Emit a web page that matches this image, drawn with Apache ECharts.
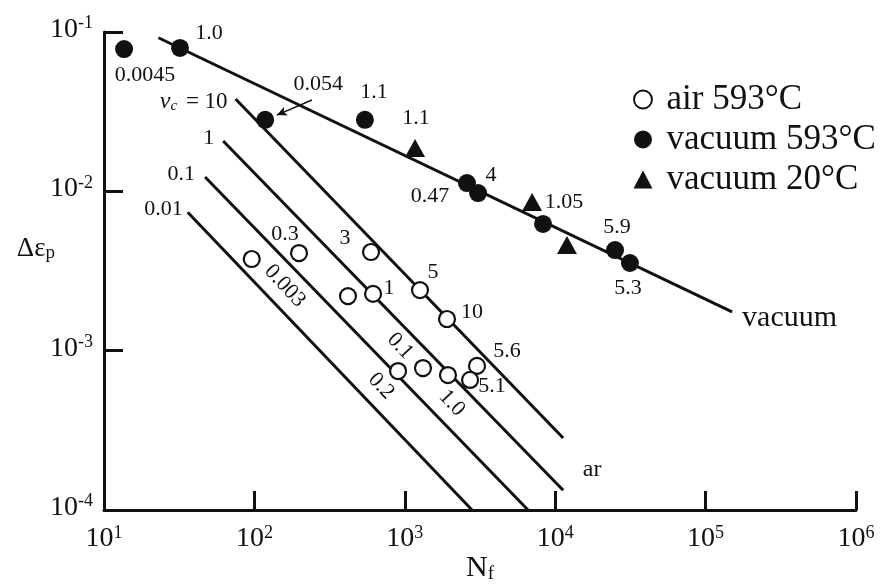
<!DOCTYPE html>
<html>
<head>
<meta charset="utf-8">
<script src="https://cdn.jsdelivr.net/npm/echarts@6/dist/echarts.min.js"></script>
<style>
  html, body { margin: 0; padding: 0; background: #fff; }
  #chart { width: 884px; height: 587px; }
</style>
</head>
<body>
<div id="chart"></div>
<script>
// Fatigue life: plastic strain range vs. cycles to failure (log-log)

// Fitted lines, endpoints as [Nf, strain range]
const vacuumFit = [[23, 0.092], [1.5e5, 1.75e-3]];
const nuLine10 = [[75, 0.038], [11300, 2.83e-4]];
const nuLine1 = [[62, 0.0207], [11300, 1.33e-4]];
const nuLine01 = [[47, 0.0123], [6600, 1e-4]];
const nuLine001 = [[36, 0.0074], [2800, 1e-4]];
const nuLineTags = ['{i|ν}{sub|c}{n| = 10}', '1', '0.1', '0.01'];

// Air, 593°C
const airN = [96, 198, 596, 419, 615, 1262, 1908, 902, 1321, 1936, 3020, 2716];
const airStrain = [3.76e-3, 4.10e-3, 4.16e-3, 2.20e-3, 2.27e-3, 2.40e-3, 1.58e-3, 7.45e-4, 7.78e-4, 7.03e-4, 8.02e-4, 6.55e-4];
const airTags = ['0.003', '0.3', '3', '', '1', '5', '10', '0.2', '0.1', '1.0', '5.6', '5.1'];

// Vacuum, 593°C
const vac593N = [13.6, 32, 118, 543, 2590, 3070, 8300, 25000, 31400];
const vac593Strain = [0.0782, 0.0794, 0.0281, 0.0281, 0.01127, 0.00976, 0.00624, 0.00428, 0.00355];
const vac593Tags = ['0.0045', '1.0', '0.054', '1.1', '0.47', '4', '', '5.9', '5.3'];

// Vacuum, 20°C
const vac20N = [1170, 7020, 11980];
const vac20Strain = [0.0187, 0.00857, 0.0046];
const vac20Tags = ['1.1', '1.05', ''];

// Free text and the pointer to the 0.054 point
const arTagAt = [17600, 1.91e-4];
const pointerFrom = [241, 0.0374];
const pointerTo = [141, 0.0301];

const seriesNames = ['air 593°C', 'vacuum 593°C', 'vacuum 20°C'];

// ---- label placement (screen pixel offsets from the marker centre) ----
const airTagLayout = [
  { offset: [33, 27], rotate: -47 }, { offset: [-14, -19] }, { offset: [-26, -14] }, null,
  { offset: [16, -6] }, { offset: [13, -18] }, { offset: [25, -7] },
  { offset: [-17, 15], rotate: -47 }, { offset: [-23, -22], rotate: -47 },
  { offset: [4, 28], rotate: -47 }, { offset: [30, -15] }, { offset: [22, 6] }
];
const vac593TagLayout = [
  { offset: [21, 26] }, { offset: [29, -15] }, { offset: [53, -36] }, { offset: [9, -28] },
  { offset: [-37, 13] }, { offset: [13, -18] }, null, { offset: [2, -23] }, { offset: [-2, 25] }
];
const vac20TagLayout = [{ offset: [1, -30] }, { offset: [32, 0] }, null];
const nuTagLayout = [
  { distance: 8, dy: 3 }, { distance: 9, dy: -3 }, { distance: 10, dy: -3 }, { distance: 5, dy: -3 }
];

const SERIF = '"Liberation Serif", "Times New Roman", serif';
const INK = '#111';

const tagText = { fontFamily: SERIF, fontSize: 22, color: INK };

// A rotated label also turns its offset; undo that so offsets stay in screen space.
function screenOffset(off, rotateDeg) {
  if (!rotateDeg) return off;
  const t = -rotateDeg * Math.PI / 180;
  const c = Math.cos(t), s = Math.sin(t);
  return [off[0] * c + off[1] * s, -off[0] * s + off[1] * c];
}

function pointData(xs, ys, tags, layout) {
  return xs.map((x, i) => {
    const item = { value: [x, ys[i]] };
    const lay = layout[i];
    if (tags[i] && lay) {
      item.label = Object.assign({
        show: true, position: 'inside', formatter: tags[i],
        offset: screenOffset(lay.offset, lay.rotate), rotate: lay.rotate || 0
      }, tagText);
    }
    return item;
  });
}

const supRich = {
  b: { fontFamily: SERIF, fontSize: 28, color: INK, lineHeight: 30 },
  s: { fontFamily: SERIF, fontSize: 18, color: INK, lineHeight: 18, verticalAlign: 'top' }
};
const decadeLabel = v => '{b|10}{s|' + Math.round(Math.log10(v)) + '}';

const axisCommon = {
  type: 'log', logBase: 10,
  axisLine: { lineStyle: { color: INK, width: 3 } },
  axisTick: { inside: true, length: 19, lineStyle: { color: INK, width: 3 } },
  splitLine: { show: false },
  minorTick: { show: false },
  axisLabel: { formatter: decadeLabel, rich: supRich },
  nameMoveOverlap: false
};

const lineStyle = { color: INK, width: 3 };
const fitLines = [nuLine10, nuLine1, nuLine01, nuLine001, vacuumFit].map(pts => ({
  type: 'line', data: pts, symbol: 'none', lineStyle, z: 2, silent: true
}));

const chart = echarts.init(document.getElementById('chart'));
chart.setOption({
  animation: false,
  backgroundColor: '#fff',
  grid: { left: 104, top: 32, width: 752, height: 478, containLabel: false, outerBoundsMode: 'none' },
  xAxis: Object.assign({}, axisCommon, {
    min: 10, max: 1e6,
    axisLabel: Object.assign({}, axisCommon.axisLabel, { margin: 14 }),
    name: '{n|N}{f|f}', nameLocation: 'middle', nameGap: 42,
    nameTextStyle: {
      rich: {
        n: { fontFamily: SERIF, fontSize: 30, color: INK, lineHeight: 32 },
        f: { fontFamily: SERIF, fontSize: 19, color: INK, lineHeight: 20, verticalAlign: 'bottom' }
      }
    }
  }),
  yAxis: Object.assign({}, axisCommon, {
    min: 1e-4, max: 0.1,
    axisLabel: Object.assign({}, axisCommon.axisLabel, { margin: 11, padding: [0, 0, 5, 0] }),
    name: '{d|Δε}{p|p}', nameLocation: 'middle', nameRotate: 0, nameGap: 49,
    nameTextStyle: {
      padding: [0, 0, 44, 0],
      rich: {
        d: { fontFamily: SERIF, fontSize: 27, color: INK, lineHeight: 28 },
        p: { fontFamily: SERIF, fontSize: 19, color: INK, lineHeight: 18, verticalAlign: 'bottom' }
      }
    }
  }),
  legend: {
    orient: 'vertical', left: 628, top: 77,
    itemWidth: 19, itemHeight: 18, itemGap: 5,
    textStyle: { fontFamily: SERIF, fontSize: 35, color: INK, padding: [0, 0, 0, 9] },
    data: seriesNames
  },
  series: fitLines.concat([
    {
      // ν_c tags at the upper ends of the air lines
      type: 'scatter', symbolSize: 0, silent: true, z: 3,
      itemStyle: { opacity: 1 },
      data: [nuLine10, nuLine1, nuLine01, nuLine001].map((pts, i) => ({
        value: pts[0],
        label: Object.assign({
          show: true, position: 'left', distance: nuTagLayout[i].distance,
          offset: [0, nuTagLayout[i].dy], formatter: nuLineTags[i],
          rich: {
            i: { fontFamily: SERIF, fontSize: 24, fontStyle: 'italic', color: INK, lineHeight: 24 },
            sub: { fontFamily: SERIF, fontSize: 15, fontStyle: 'italic', color: INK, lineHeight: 12, verticalAlign: 'bottom', padding: [0, 3, 0, 0] },
            n: { fontFamily: SERIF, fontSize: 23, color: INK, lineHeight: 24 }
          }
        }, tagText)
      }))
    },
    {
      type: 'scatter', symbolSize: 0, silent: true, z: 3,
      itemStyle: { opacity: 1 },
      data: [
        { value: vacuumFit[1], label: { show: true, position: 'right', distance: 10, offset: [0, 6], formatter: 'vacuum', fontFamily: SERIF, fontSize: 30, color: INK } },
        { value: arTagAt, label: { show: true, position: 'inside', offset: [0, 4], formatter: 'ar', fontFamily: SERIF, fontSize: 24, color: INK } }
      ]
    },
    {
      name: seriesNames[0], type: 'scatter', symbol: 'circle', symbolSize: 16, z: 5,
      itemStyle: { color: '#fff', borderColor: INK, borderWidth: 2.2, opacity: 1 },
      data: pointData(airN, airStrain, airTags, airTagLayout)
    },
    {
      name: seriesNames[1], type: 'scatter', symbol: 'circle', symbolSize: 18, z: 5,
      itemStyle: { color: INK, opacity: 1 },
      data: pointData(vac593N, vac593Strain, vac593Tags, vac593TagLayout),
      markLine: {
        silent: true, symbol: ['none', 'arrow'], symbolSize: [7, 10],
        lineStyle: { color: INK, width: 1.5, type: 'solid' },
        label: { show: false },
        data: [[{ coord: pointerFrom }, { coord: pointerTo }]]
      }
    },
    {
      name: seriesNames[2], type: 'scatter', symbol: 'triangle', symbolSize: [20, 18], z: 5,
      itemStyle: { color: INK, opacity: 1 },
      data: pointData(vac20N, vac20Strain, vac20Tags, vac20TagLayout)
    }
  ])
});
</script>
</body>
</html>
